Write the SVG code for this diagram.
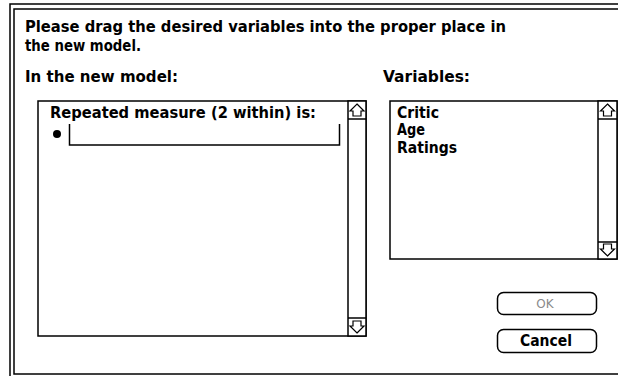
<svg xmlns="http://www.w3.org/2000/svg" width="618" height="376" viewBox="0 0 618 376">
<style>
.t{font-family:"DejaVu Sans","Liberation Sans",sans-serif;font-weight:bold;font-size:15.5px;fill:#000}
.box{fill:#fff;stroke:#000;stroke-width:1.5}
.ln{fill:none;stroke:#000;stroke-width:1.5}
.arr{fill:#fff;stroke:#000;stroke-width:1.2;stroke-linejoin:miter}
.btn{fill:#fff;stroke:#000;stroke-width:1.5}
</style>
<rect width="618" height="376" fill="#fff"/>
<g id="frame">
<rect x="10" y="4" width="640" height="400" class="ln" stroke-width="1.5"/>
<rect x="14" y="9" width="640" height="365" class="ln" stroke-width="2"/>
</g>
<g id="instructions">
<text class="t" x="25" y="32" textLength="481" lengthAdjust="spacingAndGlyphs">Please drag the desired variables into the proper place in</text>
<text class="t" x="25" y="51" textLength="116" lengthAdjust="spacingAndGlyphs">the new model.</text>
<text class="t" x="25" y="82" textLength="153" lengthAdjust="spacingAndGlyphs">In the new model:</text>
<text class="t" x="383" y="82" textLength="87" lengthAdjust="spacingAndGlyphs">Variables:</text>
</g>
<g id="model-list">
<rect x="38" y="101" width="328" height="235" class="box"/>
<text class="t" x="50" y="118" textLength="266" lengthAdjust="spacingAndGlyphs">Repeated measure (2 within) is:</text>
<circle cx="57" cy="134" r="4" fill="#000"/>
<polyline points="69.5,124 69.5,145 339.5,145 339.5,124" class="ln"/>
<g id="model-scroll">
<rect x="348" y="101" width="18" height="235" class="box"/>
<line x1="348" y1="119" x2="366" y2="119" class="ln"/>
<line x1="348" y1="318" x2="366" y2="318" class="ln"/>
<polygon points="357,104 364,111 361,111 361,116 353,116 353,111 350,111" class="arr"/>
<polygon points="357,333 364,326 361,326 361,321 353,321 353,326 350,326" class="arr"/>
</g>
</g>
<g id="variables-list">
<rect x="390" y="101" width="227" height="158" class="box"/>
<text class="t" x="397" y="118" textLength="42" lengthAdjust="spacingAndGlyphs">Critic</text>
<text class="t" x="397" y="135" textLength="28" lengthAdjust="spacingAndGlyphs">Age</text>
<text class="t" x="397" y="153" textLength="60" lengthAdjust="spacingAndGlyphs">Ratings</text>
<g id="variables-scroll">
<rect x="598" y="101" width="19" height="158" class="box"/>
<line x1="598" y1="119" x2="617" y2="119" class="ln"/>
<line x1="598" y1="242" x2="617" y2="242" class="ln"/>
<polygon points="607.5,104 614.5,111 611.5,111 611.5,116 603.5,116 603.5,111 600.5,111" class="arr"/>
<polygon points="607.5,256 614.5,249 611.5,249 611.5,244 603.5,244 603.5,249 600.5,249" class="arr"/>
</g>
</g>
<g id="ok-button">
<rect x="497.5" y="292.5" width="99" height="22" rx="6" class="btn"/>
<text class="t" x="545" y="308" text-anchor="middle" style="fill:#8a8a8a;font-size:12px;font-weight:normal">OK</text>
</g>
<g id="cancel-button">
<rect x="497.5" y="329.5" width="99" height="23" rx="6" class="btn"/>
<text class="t" x="546" y="346" text-anchor="middle" textLength="52" lengthAdjust="spacingAndGlyphs">Cancel</text>
</g>
</svg>
